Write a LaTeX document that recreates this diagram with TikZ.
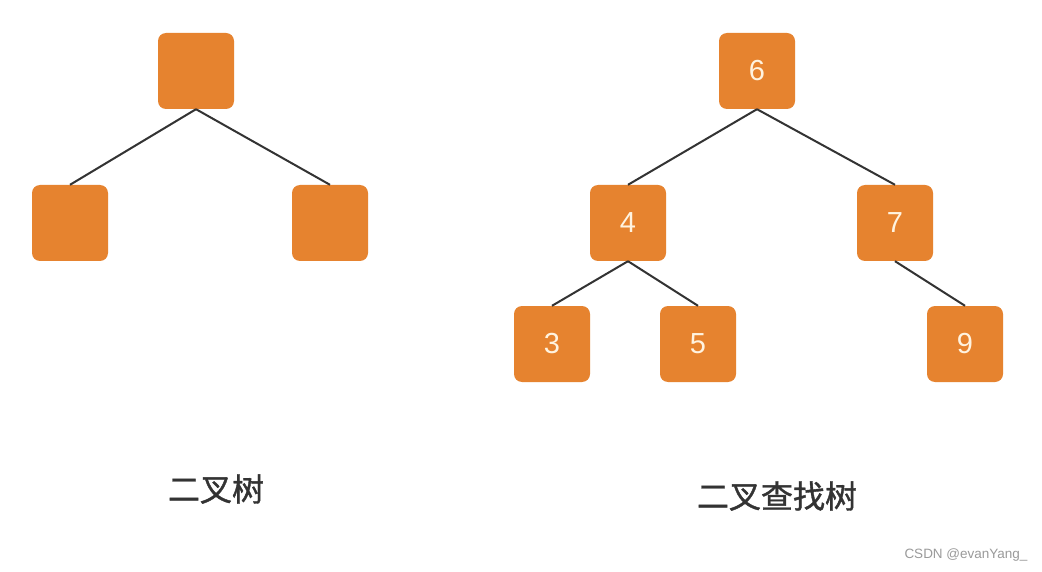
\documentclass[tikz,border=0pt]{standalone}
\usepackage{fontspec}
\setmainfont{Liberation Sans}
\newfontfamily\cjk[AutoFakeBold=1.2]{Noto Sans CJK SC}
\definecolor{boxorange}{HTML}{E6832F}
\definecolor{numcream}{HTML}{FFF3E0}
\definecolor{edgegray}{HTML}{333333}
\definecolor{wmgray}{HTML}{9A9A9A}
\begin{document}
\begin{tikzpicture}[x=1pt,y=-1pt,
  tnode/.style={fill=boxorange,draw=none,rounded corners=8pt,minimum width=76pt,minimum height=76pt,inner sep=0pt,text=numcream,font=\fontsize{29}{31}\selectfont},
  edge/.style={draw=edgegray,line width=2pt},
  captext/.style={font=\cjk\bfseries\fontsize{32}{34}\selectfont,text=black!80}]
\useasboundingbox (0,0) rectangle (1042,572);
\fill[white] (0,0) rectangle (1042,572);
% left tree
\node[tnode] (r) at (196,71) {};
\node[tnode] (rl) at (70,223) {};
\node[tnode] (rr) at (330,223) {};
\draw[edge] (r.south) -- (rl.north);
\draw[edge] (r.south) -- (rr.north);
% right tree
\node[tnode] (n6) at (757,71) {6};
\node[tnode] (n4) at (628,223) {4};
\node[tnode] (n7) at (895,223) {7};
\node[tnode] (n3) at (552,344) {3};
\node[tnode] (n5) at (698,344) {5};
\node[tnode] (n9) at (965,344) {9};
\draw[edge] (n6.south) -- (n4.north);
\draw[edge] (n6.south) -- (n7.north);
\draw[edge] (n4.south) -- (n3.north);
\draw[edge] (n4.south) -- (n5.north);
\draw[edge] (n7.south) -- (n9.north);
% captions
\node[captext] (c1) at (216,489) {二叉树};
\node[captext] (c2) at (777,496) {二叉查找树};
\node[font=\fontsize{13.5}{15}\selectfont,text=wmgray] (wm) at (966,555) {CSDN @evanYang\_};
\end{tikzpicture}
\end{document}
